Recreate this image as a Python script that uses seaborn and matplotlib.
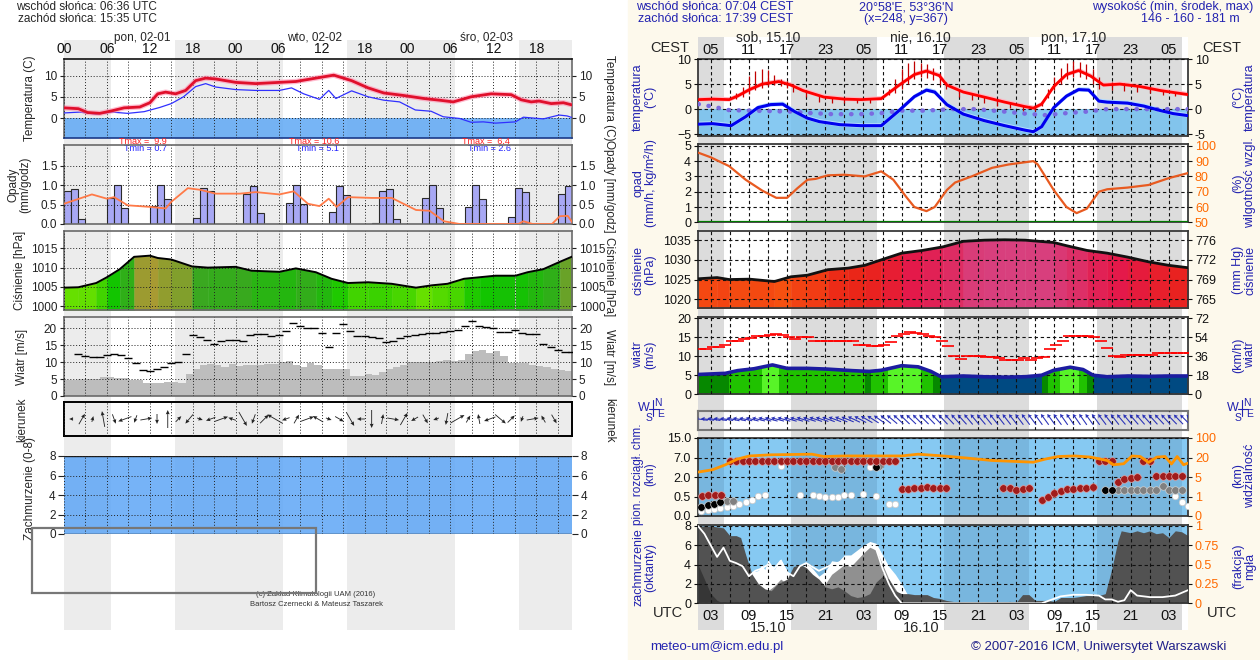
import numpy as np
import matplotlib
matplotlib.use("Agg")
import matplotlib.pyplot as plt
from matplotlib.colors import LinearSegmentedColormap, Normalize
from matplotlib.patches import Rectangle
from matplotlib.lines import Line2D
import seaborn as sns

sns.set_style("ticks")
plt.rcParams['font.family'] = ['Liberation Sans', 'DejaVu Sans']

# ---------------- left meteogram (UAM), hours since 02-01 00 UTC ----------------
l_sunrise, l_sunset = 6.6, 15.583
l_day_h = [11, 35, 59]
l_days = ['pon, 02-01', 'wto, 02-02', 'śro, 02-03']
l_tmax = [9.9, 10.6, 6.4]
l_tmin = [0.7, 5.1, 2.6]

l_temp_h = [0, 2, 3.3, 5, 6.7, 8.4, 10.6, 12, 13.1, 14.2, 15.6, 17, 18.4, 19.8, 21.2, 24, 26.8, 30.1,
            32.4, 35.2, 37.7, 40.2, 42.5, 44.7, 47.5, 50.3, 52.5, 54.4, 56.9, 59.7, 62.5, 63.9, 65.3,
            66.4, 68.1, 69.8, 71.2]
l_temp = [2.4, 2.2, 1.3, 1.1, 1.7, 2.4, 2.6, 3.6, 5.7, 6.1, 5.7, 6.5, 8.8, 9.4, 9.2, 8.4, 8.1, 8.4,
          8.6, 9.4, 10.1, 8.8, 7.1, 5.9, 5.3, 4.6, 4.2, 3.8, 5.0, 5.7, 5.5, 4.3, 3.8, 4.0, 3.4, 3.6, 3.0]
l_dew_h = [0, 2.2, 4.5, 6.7, 8.9, 11.2, 13.4, 15, 16.7, 18.4, 19.8, 21.2, 24, 26.8, 30.1, 31.8, 33.5,
           35.7, 37, 38, 40.2, 42.5, 44.7, 46.9, 49.1, 51.3, 53, 55.3, 56.9, 58.6, 60.3, 63.1, 64.2,
           67, 69.2, 70.3, 71.2]
l_dew = [1.2, 1.4, 0.9, 1.4, 1.1, 1.5, 2.5, 3.4, 5.0, 7.4, 8.1, 7.3, 6.7, 6.5, 6.5, 7.1, 5.7, 4.4,
         6.5, 4.6, 6.4, 5.0, 4.2, 3.8, 1.9, 1.6, 0.3, -0.1, -1.0, -0.9, -1.2, -0.9, 0.2, -0.2, 0.7,
         0.5, 0.0]

l_rain = [0.84, 0.90, 0.13, 0, 0, 0,
          0.67, 1.00, 0.41, 0, 0, 0,
          0.45, 1.00, 0.63, 0, 0, 0,
          0.15, 0.92, 0.85, 0, 0, 0, 0,
          0.77, 0.97, 0.27, 0, 0, 0,
          0.55, 1.00, 0.52, 0, 0, 0,
          0.30, 0.97, 0.75, 0, 0, 0,
          0.03, 0.86, 0.90, 0.12, 0, 0, 0,
          0.68, 1.00, 0.40, 0, 0, 0,
          0.43, 1.00, 0.63, 0, 0, 0,
          0.17, 0.92, 0.83, 0, 0, 0, 0,
          0.77, 0.97]
l_hum_h = [0, 3.9, 6, 7, 8.9, 12, 14.2, 15, 17.3, 19, 21.2, 24.6, 26.8, 30.1, 32.1, 34.1, 35.7, 37,
           38.1, 39.7, 43, 45.8, 49.2, 51.1, 53.1, 55.3, 63.5, 64.2, 65.5, 68.2, 69.3, 70.4, 71.2]
l_hum = [0.52, 0.76, 0.65, 0.69, 0.48, 0.44, 0.40, 0.57, 0.92, 0.88, 0.78, 0.78, 0.82, 0.76, 0.84,
         0.52, 0.46, 0.65, 0.44, 0.69, 0.67, 0.67, 0.36, 0.34, 0.07, 0.0, 0.0, 0.07, 0.0, 0.0, 0.20,
         0.21, 0.0]

l_pres_h = [0, 2, 4.5, 6, 7.8, 9.8, 12, 13.1, 15, 17.9, 20.1, 24, 26.2, 30.1, 32.4, 35.2, 37.4, 39.7,
            42.5, 45.8, 49.2, 51.4, 53.6, 55.9, 58.1, 60.3, 63.1, 64.8, 67, 69.3, 71.2]
l_pres = [1004.8, 1004.9, 1006.0, 1007.5, 1009.6, 1012.8, 1013.1, 1012.5, 1012.1, 1010.3, 1010.0,
          1010.2, 1009.2, 1008.9, 1009.8, 1008.8, 1007.1, 1006.0, 1006.2, 1005.8, 1004.8, 1005.4,
          1005.8, 1007.1, 1007.5, 1007.9, 1007.9, 1008.8, 1009.6, 1011.5, 1013.0]

l_wind = [4.7, 4.7, 5.0, 5.0, 5.0, 5.7, 5.7, 5.2, 5.2, 4.8, 4.8, 3.9, 3.9, 3.9, 4.0, 4.0, 3.8, 6.5,
          8.0, 9.0, 9.3, 9.0, 8.7, 9.3, 8.8, 9.0, 9.2, 9.2, 9.5, 9.3, 10.0, 10.4, 9.0, 8.6, 9.8, 9.2,
          8.0, 8.0, 8.0, 7.9, 5.8, 6.0, 6.5, 6.3, 7.0, 8.0, 8.7, 9.0, 10.0, 10.0, 10.0, 10.0, 10.3,
          10.5, 10.4, 10.7, 12.5, 13.2, 13.6, 12.8, 13.3, 11.8, 9.6, 9.8, 9.8, 9.2, 8.8, 8.5, 8.0,
          7.7, 7.5]
l_gust = [12.4, 11.9, 11.4, 11.4, 12.1, 12.4, 12.1, 11.2, 9.7, 7.8, 7.4, 8.1, 8.6, 9.6, 10.1, 12.4,
          18.1, 17.3, 16.5, 15.3, 16.1, 16.5, 16.5, 16.1, 18.1, 18.3, 18.3, 17.8, 18.0, 19.2, 21.5,
          20.5, 20.2, 20.2, 18.7, 14.5, 18.7, 21.2, 19.2, 17.8, 17.8, 17.5, 17.1, 15.8, 16.3, 17.0,
          17.6, 18.1, 18.3, 18.6, 18.6, 19.0, 19.2, 19.5, 20.7, 22.2, 20.7, 20.4, 20.2, 19.0, 19.0,
          19.5, 18.7, 18.4, 18.3, 15.3, 14.4, 13.6, 12.9, 12.9]
l_dir_ang = [180, 60, 75, 100, 290, 200, 250, 10, 270, 90,
             45, 230, 340, 200, 20, 160, 300, 250, 45, 150,
             200, 60, 20, 150, 340, 330, 300, 180, 270, 80,
             350, 60, 210, 300, 200, 260, 30, 60, 100, 200,
             320, 45, 250, 10, 120, 300]
l_dir_len = [0.2, 0.6, 0.3, 0.8, 0.5, 0.7, 0.4, 0.6, 0.5, 0.9,
             0.4, 0.6, 0.3, 0.5, 0.7, 0.4, 0.8, 0.5, 0.6, 0.9,
             0.4, 0.5, 0.7, 0.6, 0.3, 0.5, 0.8, 0.4, 0.9, 0.5,
             0.6, 0.7, 0.4, 0.5, 0.3, 0.6, 0.8, 0.4, 0.5, 0.6,
             0.7, 0.5, 0.3, 0.6, 0.4, 0.5]
l_cloud = 8

# ---------------- right meteogram (ICM), hours since 15.10 00 UTC ----------------
r_sunrise, r_sunset = 5.067, 15.65
r_day_h = [12, 36, 60]
r_days = ['sob, 15.10', 'nie, 16.10', 'pon, 17.10']
r_dates = ['15.10', '16.10', '17.10']

r_temp_h = [1.06, 3.3, 5.9, 7.2, 9.1, 11.1, 13.7, 15.6, 17.5, 20.8, 24, 26.6, 29.8, 32.4, 35, 36.9,
            38.9, 40.1, 42.7, 46, 49.2, 52.4, 53.7, 55, 56.9, 58.9, 60.8, 62.7, 64.7, 67.3, 70.5,
            73.7, 78]
r_temp = [1.9, 2.0, 1.9, 2.6, 3.9, 5.0, 5.5, 4.8, 3.7, 2.4, 2.0, 1.9, 2.1, 4.6, 6.9, 7.6, 6.7, 4.8,
          3.4, 2.4, 1.4, 0.5, 0.2, 1.0, 4.5, 6.9, 7.7, 6.6, 4.8, 5.0, 4.5, 3.7, 2.9]
r_blue_h = [1.06, 3.3, 6.2, 8.5, 10.4, 12.4, 14.3, 16.2, 18.2, 20.1, 23.3, 26.6, 29.8, 32.4, 35, 36.9,
            38.2, 40.1, 42.7, 46, 49.2, 52.4, 53.7, 55, 56.9, 58.9, 60.8, 62.4, 64, 65.3, 68.5,
            71.1, 73.7, 75.7, 78]
r_blue = [-3.0, -2.9, -3.3, -1.5, 0.3, 0.9, 1.0, -0.5, -1.8, -2.5, -3.1, -3.3, -3.3, -0.5, 2.5, 3.8,
          3.4, 0.9, -1.0, -2.3, -3.3, -4.2, -4.5, -3.5, 0.3, 2.6, 3.9, 3.8, 1.6, 1.4, 1.2, 0.6,
          -0.3, -0.9, -1.3]
r_dew_h = [1.06, 3.3, 5.9, 9.1, 12.4, 15.6, 18.9, 22.1, 26.6, 29.8, 33, 36.9, 40.8, 44.6, 49.2, 52.4,
           55.6, 58.9, 62.1, 65.3, 71.8, 78]
r_dew = [1.0, 0.5, -0.2, -0.3, -0.4, -0.5, -0.8, -1.0, -1.0, -0.8, -0.3, -0.3, 0.0, 0.0, -0.5, -0.9,
         -1.2, -0.8, -0.5, 0.0, 0.0, 0.0]
r_spike_h = [7, 8, 9, 10, 11, 12, 13, 14, 15, 16, 18, 20, 22, 24, 26, 28,
             31, 32, 33, 34, 35, 36, 37, 38, 39, 40, 42, 44, 46, 48, 50, 52, 54,
             55, 56, 57, 58, 59, 60, 61, 62, 63, 64, 66, 68, 70, 72, 74, 76]
r_spike_lo = [2.0, 2.4, 3.0, 3.8, 4.3, 4.6, 4.8, 4.7, 4.2, 3.5, 2.5, 1.5, 1.3, 1.2, 1.2, 1.3,
              2.8, 3.2, 4.0, 5.0, 6.0, 6.5, 6.3, 5.8, 4.8, 4.0, 2.4, 1.8, 1.2, 0.6, 0.2, -0.4, -0.3,
              0.6, 2.3, 3.8, 5.0, 6.0, 6.5, 6.5, 6.0, 5.0, 4.0, 3.8, 3.6, 3.4, 3.2, 2.8, 2.6]
r_spike_hi = [3.2, 4.5, 6.6, 7.6, 8.1, 7.9, 6.9, 6.0, 5.6, 5.0, 3.6, 2.6, 2.3, 2.1, 2.0, 2.1,
              4.0, 6.0, 8.0, 9.3, 9.6, 9.3, 9.0, 8.3, 7.2, 5.5, 3.8, 3.0, 2.5, 1.9, 1.2, 0.7, 0.5,
              1.6, 4.0, 6.5, 8.2, 9.2, 9.7, 9.5, 9.0, 8.0, 6.5, 5.4, 5.2, 4.9, 4.4, 3.9, 3.5]

r_hum_h = [1.06, 3, 5.9, 8.5, 11.1, 13.3, 15, 16.6, 18.2, 19.5, 21.4, 24, 27.2, 29.8, 31.7, 33.7, 35,
           36.9, 38.2, 40.1, 41.4, 44, 47.2, 49.8, 53.7, 54.4, 56.9, 58.9, 60.5, 62.1, 64, 65.3,
           68.5, 71.8, 75, 78]
r_hum = [95.5, 92.5, 86.7, 77.8, 70.7, 66, 66, 72.2, 77.8, 78.4, 80.7, 81.1, 80, 83.3, 77.8, 66.7,
         60, 57.3, 60, 71.1, 76, 80, 85.6, 87.8, 90, 87.8, 71.1, 60, 56, 58.9, 70, 71.6, 72.7, 74.4,
         78.9, 82.2]

r_pres_h = [1.06, 4, 5.9, 9.1, 13, 15.6, 18.2, 21.4, 24.6, 27.2, 29.8, 33, 36.3, 39.5, 42.7, 46, 49.2,
            52.4, 56.9, 58.9, 62.1, 65.3, 68.5, 71.8, 75, 78]
r_pres = [1025.2, 1025.5, 1025.0, 1025.1, 1024.5, 1025.7, 1026.1, 1027.5, 1027.9, 1028.6, 1030.0,
          1031.7, 1032.4, 1033.3, 1034.7, 1035.0, 1035.1, 1035.0, 1034.4, 1033.6, 1032.4, 1031.7,
          1030.7, 1029.5, 1028.6, 1028.0]
r_mmhg_ticks = [1020, 1025, 1030, 1035]
r_mmhg_labels = ['765', '769', '772', '776']

r_wind_h = [1.06, 5.3, 7.2, 9.8, 12.7, 15.0, 18.2, 21.4, 25.3, 27.9, 29.8, 33.0, 35.6, 37.6, 39.2,
            42.7, 46.0, 49.2, 52.4, 55.0, 56.9, 59.5, 61.5, 63.1, 65.3, 68.6, 71.8, 75.0, 78.0]
r_wind = [5.2, 5.5, 6.2, 6.7, 7.7, 6.8, 6.8, 6.6, 6.2, 6.0, 6.3, 7.5, 7.2, 6.0, 4.6, 4.8, 4.6, 4.5,
          4.6, 5.0, 6.3, 7.1, 6.5, 5.0, 4.6, 4.8, 4.7, 4.8, 4.8]
r_wclass_edges = [1, 5.9, 11.1, 13.7, 27.2, 28.2, 30.8, 36, 37.9, 39.2, 55, 56, 57.9, 60.8, 62.1, 63.3, 78]
r_wclass = ['dark', 'mid', 'bright', 'mid', 'dark', 'mid', 'bright', 'mid', 'dark', 'blue',
            'dark', 'mid', 'bright', 'mid', 'dark', 'blue']
r_gust = [11.8, 11.8, 12.4, 12.4, 13.0, 13.9, 13.9, 14.6, 14.8, 15.3,
          15.3, 15.6, 15.9, 15.6, 15.0, 14.6, 15.0, 15.0, 14.1, 14.1,
          14.1, 14.1, 13.9, 13.9, 13.9, 13.0, 13.0, 12.6, 12.6, 13.0,
          13.7, 15.4, 15.9, 16.3, 16.1, 15.9, 15.4, 15.0, 14.1, 12.6,
          10.0, 9.3, 10.0, 10.0, 10.0, 9.7, 9.7, 9.5, 9.1, 9.1,
          9.1, 9.5, 9.1, 9.5, 9.7, 11.8, 13.0, 14.1, 15.3, 15.4,
          15.4, 15.4, 15.0, 14.1, 12.1, 10.0, 9.7, 10.4, 10.4, 10.4,
          10.4, 10.4, 10.9, 10.9, 10.9, 10.9, 10.9, 10.9]
r_dir_ang = [172, 172, 170, 170, 170, 168, 168, 168, 166, 166,
             165, 165, 165, 164, 164, 164, 163, 163, 162, 162,
             160, 160, 158, 158, 155, 152, 150, 148, 145, 142,
             140, 138, 136, 136, 135, 135, 134, 134, 133, 133,
             132, 132, 130, 130, 130, 129, 129, 128, 128, 128,
             127, 127, 127, 126, 126, 126, 126, 125, 125, 125,
             125, 126, 126, 127, 128, 128, 130, 130, 131, 131,
             132, 132, 133, 133, 134, 134, 135, 135]

r_vis_h = [1.06, 3.3, 5.3, 7.2, 9.1, 12.4, 18.9, 20.8, 24, 33, 35.6, 39.5, 43.4, 47.2, 53.7, 55.6,
           57.6, 60.2, 62.7, 65.3, 66.3, 67.9, 69.2, 70.5, 71.8, 73.1, 74.4, 75.4, 76.3, 77.3, 78]
r_vis = [8.8, 10.6, 14.4, 18.8, 26.4, 31, 33.6, 24, 26.4, 26.4, 33.6, 26.4, 19.5, 17.7, 16.4, 18.8,
         24, 26.4, 21.6, 17.7, 14.4, 15.2, 26.4, 24, 16.2, 21.6, 24, 15, 24, 14.4, 15.7]
r_base_h = [1.6, 2.6, 3.6, 4.6,
            6, 7, 8, 9, 10, 11, 12, 13, 14, 15, 16, 17, 18, 19, 20, 21, 22, 23, 24, 25, 26, 27, 28,
            29, 30, 31, 32,
            33, 34, 35, 36, 37, 38, 39, 40,
            49, 50, 51, 52, 53,
            55, 56, 57, 58, 59, 60, 61, 62, 63,
            64, 65, 66, 67, 68, 69, 70, 71, 72, 73, 74, 75, 76, 77]
r_base = [0.56, 0.58, 0.6, 0.6,
          6.2, 6.2, 6.2, 6.2, 6.2, 6.2, 6.2, 6.2, 6.2, 6.2, 6.2, 6.2, 6.2, 6.2, 6.2, 6.2, 6.2, 6.2,
          6.2, 6.2, 6.2, 6.2, 6.2, 6.2, 6.2, 6.2, 6.2,
          1.05, 1.1, 1.15, 1.15, 1.22, 1.18, 1.15, 1.15,
          1.15, 1.15, 1.0, 1.1, 1.12,
          0.42, 0.5, 0.75, 0.95, 1.05, 1.1, 1.15, 1.18, 1.25,
          6.2, 6.2, 6.2, 1.6, 1.85, 1.95, 2.0, 6.2, 6.2, 2.3, 2.3, 2.3, 2.3, 2.3]
r_white_h = [1.5, 2.5, 3.5, 4.5, 5.5, 6.5, 7.5, 8.5, 9.5, 10.5, 11.5, 14, 17, 19, 20, 21, 22, 23, 24,
             25, 27, 28, 29, 31, 32, 65, 76, 77, 78]
r_white = [0.12, 0.15, 0.18, 0.2, 0.22, 0.25, 0.3, 0.35, 0.42, 0.55, 0.58, 4.8, 0.62, 0.58, 0.55, 0.5,
           0.5, 0.5, 0.62, 0.62, 0.7, 4.6, 0.55, 0.3, 0.3, 1.0, 0.55, 0.35, 0.25]
r_black_h = [1.5, 2.5, 3.5, 4.5, 29, 65, 66]
r_black = [0.22, 0.28, 0.32, 0.36, 4.6, 1.0, 1.0]
r_gray_h = [5.5, 6.5, 22.5, 23.5, 29.5, 67, 68, 69, 70, 71, 72, 73, 74, 75, 76, 77]
r_gray = [0.38, 0.38, 4.5, 4.0, 4.8, 1.0, 1.0, 1.0, 1.0, 1.0, 1.02, 1.02, 1.3, 1.0, 1.0, 1.0]

r_low_h = [1, 3, 5, 6, 7, 7.7, 8.5, 9.5, 10.5, 11.5, 12.5, 13.5, 15, 16, 17, 18, 19, 20, 21, 22, 23,
           24, 25, 26, 27, 28, 29, 30, 31, 32, 33, 34, 35, 36, 37, 38, 39, 40, 41, 42, 45, 48, 50,
           51, 52, 53, 54, 56, 57, 58, 60, 62, 64, 65, 66, 67, 67.5, 69, 70, 71, 72, 73, 74, 75,
           76, 77, 78]
r_low = [8, 8, 7.8, 7, 7, 6.8, 5, 3, 2, 1.5, 1.3, 2, 2.5, 3.8, 4, 3.7, 3, 2.5, 1.7, 1.5, 1.7, 1.3,
         0.8, 0.6, 0.7, 1.0, 2.2, 2.8, 2.5, 1.3, 1.0, 1.0, 0.9, 0.9, 0.9, 0.6, 0.5, 0.3, 0.2, 0.1,
         0, 0.1, 0.2, 0.1, 0.9, 0.9, 0.3, 0.3, 0.2, 0.6, 0.6, 0.8, 0.8, 1.0, 3.5, 6.5, 7.5, 7.3,
         7.5, 7.3, 7.5, 7.2, 7.3, 6.8, 7.5, 7.4, 7.0]
r_mid_h = [9, 10, 11, 12, 13, 14, 15, 16, 19, 20, 21, 22, 23, 24, 25, 26, 27, 28, 29, 30, 31, 32, 33, 34]
r_mid = [0, 0.5, 1.0, 1.3, 1.8, 2.5, 2.0, 0, 0.5, 1.5, 2.0, 3.0, 3.5, 4.0, 3.8, 4.5, 5.2, 5.8, 5.5,
         4.0, 2.5, 1.5, 0.5, 0]
r_high_h = [8, 9, 9.5, 10, 10.5, 11, 11.5, 12, 13, 14, 15, 16, 17, 18, 19, 20, 21, 22, 23, 24, 25,
            26, 27, 28, 29, 30, 31, 32, 33, 34, 35]
r_high = [0, 2.5, 3.3, 3.3, 3.4, 4.0, 3.5, 4.5, 3.5, 4.6, 3.3, 2.5, 3.3, 4.2, 3.6, 2.8, 3.3, 4.4,
          4.3, 5.0, 5.0, 5.5, 6.0, 6.4, 6.2, 5.0, 3.8, 3.0, 2.0, 0.8, 0]
r_vlow_h = [1, 2, 3, 4, 5]
r_vlow = [4, 2.5, 1, 0.3, 0]
r_fog_h = [1, 2, 3, 4, 5, 6, 7, 8, 9, 10, 11, 12, 13, 14, 15, 16, 17, 18, 20, 22, 24, 26, 28, 29, 30,
           31, 32, 33, 55, 56, 58, 60, 62, 64, 65, 66, 67, 68, 69, 70, 72, 74, 76, 78]
r_fog = [1.0, 0.9, 0.75, 0.6, 0.72, 0.55, 0.52, 0.48, 0.35, 0.42, 0.45, 0.5, 0.45, 0.55, 0.4, 0.35,
         0.48, 0.52, 0.42, 0.5, 0.55, 0.62, 0.75, 0.7, 0.45, 0.25, 0.1, 0.0, 0.0, 0.03, 0.09, 0.11,
         0.11, 0.1, 0.05, 0.05, 0.02, 0.04, 0.17, 0.1, 0.08, 0.08, 0.1, 0.17]

# ---------------------------------------------------------------------------------
W, H = 1260, 660
fig = plt.figure(figsize=(W / 100, H / 100), dpi=100)
fig.add_artist(Rectangle((628 / W, 0), 1, 1, transform=fig.transFigure, color='#fdf9ec', zorder=-5))


def box(x0, y0, x1, y1, **kw):
    return fig.add_axes([x0 / W, 1 - y1 / H, (x1 - x0) / W, (y1 - y0) / H], **kw)


def ftext(x, y, s, **kw):
    fig.text(x / W, 1 - y / H, s, **kw)


def vlabel(x, y, s, rot=90, **kw):
    ftext(x, y, s, rotation=rot, ha='center', va='center', multialignment='center',
          linespacing=1.0, **kw)


# ================= LEFT =================
LX0, LX1, LXMAX = 64, 572, 71
lbg = box(LX0, 40, LX1, 630)
lbg.set_xlim(0, LXMAX)
lbg.set_ylim(0, 1)
lbg.axis('off')
for d in range(4):
    a, b = max(0, d * 24 + l_sunset - 24), min(LXMAX, d * 24 + l_sunrise)
    lbg.axvspan(a, b, color='#ececec', lw=0)


def left_style(ax, ylim, yticks, fmt='{:g}'):
    ax.set_facecolor('none')
    ax.set_axisbelow(False)
    ax.set_xlim(0, LXMAX)
    ax.set_ylim(*ylim)
    ax.set_xticks(np.arange(0, 72, 3))
    ax.set_yticks(yticks)
    ax.set_yticklabels([fmt.format(v) for v in yticks])
    ax.tick_params(axis='x', length=0, labelbottom=False)
    ax.tick_params(axis='y', left=True, right=True, labelleft=True, labelright=True,
                   labelsize=8.5, length=3, pad=2, colors='#222222')
    ax.grid(True, ls=(0, (1, 2)), color='#222222', lw=0.7)
    for s in ax.spines.values():
        s.set_color('#6a6a6a')
        s.set_linewidth(1.2)


# temperature
lt = box(LX0, 59, LX1, 138)
left_style(lt, (-4.7, 13.9), [0, 5, 10])
lt.axhspan(-4.7, 0, color='#5fa8f5', alpha=0.85, lw=0)
sns.lineplot(x=l_dew_h, y=l_dew, ax=lt, color='#3030ff', lw=0.9, zorder=3)
sns.lineplot(x=l_temp_h, y=l_temp, ax=lt, color='#ff90b0', lw=3.8, alpha=0.6, zorder=3)
sns.lineplot(x=l_temp_h, y=l_temp, ax=lt, color='#e0102c', lw=2.0, zorder=3)
lt.spines['top'].set_color('#111111')
lt.spines['bottom'].set_color('#1a3a8a')
lt.set_xticklabels([f'{h % 24:02d}' if h % 6 == 0 else '' for h in range(0, 72, 3)])
lt.tick_params(axis='x', labeltop=True, labelbottom=False, labelsize=10, pad=2, colors='#111111')
for h, s, tx, tn in zip(l_day_h, l_days, l_tmax, l_tmin):
    lt.text(h, 1.27, s, transform=lt.get_xaxis_transform(), ha='center', va='center', fontsize=8.5)
    lt.text(h, -0.04, f'Tmax = {tx:4.1f}', transform=lt.get_xaxis_transform(), ha='center',
            va='center', fontsize=6.5, color='#ff2020')
    lt.text(h + 0.4, -0.13, f'Tmin = {tn:.1f}', transform=lt.get_xaxis_transform(), ha='center',
            va='center', fontsize=6.5, color='#2020ff')

# precipitation
lp = box(LX0, 145, LX1, 224)
left_style(lp, (0, 2.03), [0, 0.5, 1.0, 1.5], '{:.1f}')
lp.bar(np.arange(len(l_rain)), l_rain, width=1, align='edge', color='#a8a8f4',
       edgecolor='#2a2a2a', linewidth=0.8, zorder=1)
sns.lineplot(x=l_hum_h, y=l_hum, ax=lp, color='#ff7a48', lw=1.3, zorder=3)

# pressure
lpr = box(LX0, 231, LX1, 310)
left_style(lpr, (999, 1019.5), [1000, 1005, 1010, 1015])
cm_l = LinearSegmentedColormap.from_list('lp', ['#66e000', '#10c400', '#3aa820', '#a89a32'])
nm_l = Normalize(min(l_pres), max(l_pres))
for i in range(len(l_pres_h) - 1):
    c = cm_l(nm_l(l_pres[i]))
    lpr.fill_between(l_pres_h[i:i + 2], l_pres[i:i + 2], 999, color=c, lw=0.3, edgecolor=c)
sns.lineplot(x=l_pres_h, y=l_pres, ax=lpr, color='black', lw=1.4, zorder=3)

# wind
lw_ = box(LX0, 317, LX1, 396)
left_style(lw_, (0, 23.3), [0, 5, 10, 15, 20])
lw_.bar(np.arange(len(l_wind)), l_wind, width=1, align='edge', color='#bdbdbd', lw=0, zorder=1)
sns.scatterplot(x=2 + np.arange(len(l_gust)), y=l_gust, ax=lw_, marker='_', s=30, color='black',
                linewidth=1.0, zorder=3)

# direction
ld = box(LX0, 402, LX1, 436)
left_style(ld, (0, 1), [])
ld.tick_params(axis='y', left=False, right=False)
for s in ld.spines.values():
    s.set_color('black')
    s.set_linewidth(1.4)
ld.grid(False, axis='y')
ang = np.deg2rad(l_dir_ang)
l_dir_h = 1 + 1.5 * np.arange(len(l_dir_ang))
ld.quiver(l_dir_h, np.full(len(l_dir_h), 0.5), np.array(l_dir_len) * np.cos(ang),
          np.array(l_dir_len) * np.sin(ang), angles='uv', scale_units='inches', scale=5.0,
          pivot='middle', width=0.0017, headwidth=4.5, headlength=5, headaxislength=4.5,
          color='#222222', zorder=3)

# cloud cover
lc = box(LX0, 456, LX1, 534)
left_style(lc, (0, 8), [0, 2, 4, 6, 8])
lc.axhspan(0, l_cloud, color='#5ea6f6', alpha=0.85, lw=0)
for s in lc.spines.values():
    s.set_visible(False)
lc.axhline(8, color='#1a1a1a', lw=1)
lc.axhline(0, color='#1a1a1a', lw=1)
lc.tick_params(axis='y', length=4)

vlabel(30, 98, 'Temperatura (C)', fontsize=8.5)
vlabel(609, 98, 'Temperatura (C)', rot=270, fontsize=8.5)
vlabel(19, 185, 'Opady\n(mm/godz)', fontsize=8.5)
vlabel(609, 186, 'Opady [mm/godz]', rot=270, fontsize=8.5)
vlabel(20, 270, 'Ciśnienie [hPa]', fontsize=8.5)
vlabel(609, 277, 'Ciśnienie [hPa]', rot=270, fontsize=8.5)
vlabel(22, 357, 'Wiatr [m/s]', fontsize=8.5)
vlabel(609, 357, 'Wiatr [m/s]', rot=270, fontsize=8.5)
vlabel(22, 420, 'kierunek', fontsize=8.5)
vlabel(609, 420, 'kierunek', rot=270, fontsize=8.5)
vlabel(30, 488, 'Zachmurzenie (0-8)', fontsize=8.5)

fig.add_artist(Rectangle((31.5 / W, 1 - 593 / H), (316 - 31.5) / W, (593 - 528) / H, fill=False,
                         ec='#777777', lw=1.6, transform=fig.transFigure, zorder=5))
ftext(316, 594, '(c) Zakład Klimatologii UAM (2016)', ha='center', va='center', fontsize=5.5,
      color='#333333')
ftext(316, 604, 'Bartosz Czernecki & Mateusz Taszarek', ha='center', va='center', fontsize=5.5,
      color='#333333')
ftext(16, 7, 'wschód słońca: 06:36 UTC', ha='left', va='center', fontsize=8.5)
ftext(18, 19, 'zachód słońca: 15:35 UTC', ha='left', va='center', fontsize=8.5)

# ================= RIGHT =================
RX0, RX1 = 698, 1188
RXLIM = (1, 78)
BLUE_T = '#2323b0'
ORANGE = '#ff6a00'

rbg = box(RX0, 37, RX1, 630)
rbg.set_xlim(*RXLIM)
rbg.set_ylim(0, 1)
rbg.axis('off')
rbg.axvspan(*RXLIM, color='white', lw=0)
for d in range(4):
    a, b = max(RXLIM[0], d * 24 + r_sunset - 24), min(RXLIM[1], d * 24 + r_sunrise)
    if b > a:
        rbg.axvspan(a, b, color='#dcdcdc', lw=0)


def right_style(ax, ylim, yticks, labels=None, face='none'):
    ax.set_facecolor(face)
    ax.set_axisbelow(False)
    ax.set_xlim(*RXLIM)
    ax.set_ylim(*ylim)
    ax.set_xticks(np.arange(3, 78, 3))
    ax.set_yticks(yticks)
    if labels is not None:
        ax.set_yticklabels(labels)
    ax.tick_params(axis='x', length=0, labelbottom=False)
    ax.tick_params(axis='y', left=True, labelsize=9, length=3, pad=2, colors='#111111')
    ax.grid(True, ls=(0, (3, 2.5)), color='#111111', lw=0.8)
    for s in ax.spines.values():
        s.set_color('#3a3a3a')
        s.set_linewidth(1.3)


def night_shade(ax):
    for d in range(4):
        a, b = max(RXLIM[0], d * 24 + r_sunset - 24), min(RXLIM[1], d * 24 + r_sunrise)
        if b > a:
            ax.axvspan(a, b, color='#1a3050', alpha=0.12, lw=0, zorder=0.5)


def right_axis(ax, ticks, labels, color='#111111', ylim=None):
    sec = ax.twinx()
    sec.set_ylim(*(ylim if ylim else ax.get_ylim()))
    sec.set_yticks(ticks)
    sec.set_yticklabels(labels)
    sec.tick_params(axis='y', labelsize=9, length=3, pad=2, colors=color)
    sec.tick_params(axis='y', color='#111111')
    for s in sec.spines.values():
        s.set_visible(False)
    sec.grid(False)
    return sec


# temperature
rt = box(RX0, 58.5, RX1, 135.7)
right_style(rt, (-5.3, 10.1), [-5, 0, 5, 10])
rt.axhspan(-5.3, 0, color='#72c0f0', alpha=0.85, lw=0)
rt.fill_between(r_temp_h, np.array(r_temp) - 0.3, np.array(r_temp) + 0.6, color='#ffb8c4', lw=0,
                zorder=2)
rt.fill_between(r_blue_h, np.array(r_blue) - 0.3, np.array(r_blue) + 0.6, color='#b4dcff', lw=0,
                zorder=2)
rt.vlines(r_spike_h, r_spike_lo, r_spike_hi, color='#c00000', lw=0.9, zorder=3)
rt.plot(r_dew_h, r_dew, ls=(0, (0.1, 2.2)), lw=3.2, color='#7a6ae0', dash_capstyle='round',
        zorder=3)
sns.lineplot(x=r_temp_h, y=r_temp, ax=rt, color='#ff0000', lw=2.0, zorder=4)
sns.lineplot(x=r_blue_h, y=r_blue, ax=rt, color='#0000ee', lw=2.2, zorder=4)
right_axis(rt, [-5, 0, 5, 10], ['-5', '0', '5', '10'])
rt.set_xticklabels([f'{(h + 2) % 24:02d}' if h % 6 == 3 else '' for h in range(3, 78, 3)])
rt.tick_params(axis='x', labeltop=True, labelbottom=False, labelsize=10.5, pad=1, colors='#111111')
for h, s in zip(r_day_h, r_days):
    rt.text(h, 1.27, s, transform=rt.get_xaxis_transform(), ha='center', va='center', fontsize=10)
ftext(670, 48, 'CEST', ha='center', va='center', fontsize=10.5)
ftext(1222, 48, 'CEST', ha='center', va='center', fontsize=10.5)

# precipitation / humidity
rp = box(RX0, 144.3, RX1, 222.3)
right_style(rp, (0, 5.1), [0, 1, 2, 3, 4, 5])
rp.axhline(0, color='#007a00', lw=1.6, zorder=3)
rph = right_axis(rp, [50, 60, 70, 80, 90, 100], ['50', '60', '70', '80', '90', '100'],
                 color=ORANGE, ylim=(50, 101))
sns.lineplot(x=r_hum_h, y=r_hum, ax=rph, color='#e85a20', lw=1.6)

# pressure
rpr = box(RX0, 230.7, RX1, 308.3)
right_style(rpr, (1017.7, 1037.4), [1020, 1025, 1030, 1035])
cm_r = LinearSegmentedColormap.from_list('rp', ['#f65010', '#ea2418', '#e41848', '#d8407e'])
nm_r = Normalize(min(r_pres), max(r_pres))
for i in range(len(r_pres_h) - 1):
    c = cm_r(nm_r(r_pres[i]))
    rpr.fill_between(r_pres_h[i:i + 2], r_pres[i:i + 2], 1017.7, color=c, lw=0.3, edgecolor=c)
sns.lineplot(x=r_pres_h, y=r_pres, ax=rpr, color='#111111', lw=2.0, zorder=3)
right_axis(rpr, r_mmhg_ticks, r_mmhg_labels)

# wind
rw = box(RX0, 316.7, RX1, 394.3)
right_style(rw, (0, 20.35), [0, 5, 10, 15, 20])
wind_cols = {'dark': '#068800', 'mid': '#20c200', 'bright': '#58f428', 'blue': '#004a82'}
for a, b, c in zip(r_wclass_edges[:-1], r_wclass_edges[1:], r_wclass):
    poly = rw.fill_between(r_wind_h, r_wind, 0, color=wind_cols[c], lw=0)
    poly.set_clip_path(Rectangle((a, 0), b - a, 25, transform=rw.transData))
sns.lineplot(x=r_wind_h, y=r_wind, ax=rw, color='#1c1ca0', lw=2.6, zorder=3)
sns.scatterplot(x=1.3 + np.arange(len(r_gust)), y=r_gust, ax=rw, marker='_', s=70, color='#ff0000',
                linewidth=1.2, zorder=4)
right_axis(rw, [0, 5, 10, 15, 20], ['0', '18', '36', '54', '72'])

# direction
rd = box(RX0, 410.7, RX1, 430)
right_style(rd, (0, 1), [])
rd.grid(False, axis='y')
for s in rd.spines.values():
    s.set_color('#777777')
    s.set_linewidth(1.5)
ra = np.deg2rad(r_dir_ang)
rd.quiver(1.5 + np.arange(len(r_dir_ang)), np.full(len(r_dir_ang), 0.55), np.cos(ra), np.sin(ra),
          angles='uv', scale_units='inches', scale=7.5, pivot='middle', width=0.0022,
          headwidth=4, headlength=3.5, headaxislength=3, color='#2a32b8', zorder=3)

# cloud base / visibility
kb_km, kb_pos = [0, 0.5, 2, 7, 15, 30], [0, 1, 2, 3, 4, 5]
kv_km, kv_pos = [0, 1, 5, 20, 100, 200], [0, 1, 2, 3, 4, 5]
rb = box(RX0, 438, RX1, 516)
rb.set_yscale('function', functions=(lambda v: np.interp(v, kb_km, kb_pos),
                                     lambda p: np.interp(p, kb_pos, kb_km)))
right_style(rb, (0, 15), [0, 0.5, 2, 7, 15], ['0.0', '0.5', '2.0', '7.0', '15.0'], face='#86c9f2')
night_shade(rb)
rbv = rb.twinx()
rbv.set_yscale('function', functions=(lambda v: np.interp(v, kv_km, kv_pos),
                                      lambda p: np.interp(p, kv_pos, kv_km)))
rbv.set_ylim(0, 100)
rbv.set_yticks([0, 1, 5, 20, 100])
rbv.set_yticklabels(['0', '1', '5', '20', '100'])
rbv.tick_params(axis='y', labelsize=9, length=3, pad=2, labelcolor=ORANGE)
for s in rbv.spines.values():
    s.set_visible(False)
sns.lineplot(x=r_vis_h, y=r_vis, ax=rbv, color='#ff9400', lw=2.0, zorder=3)
sns.scatterplot(x=r_white_h, y=r_white, ax=rb, s=22, color='white', edgecolor='#c8c8c8',
                linewidth=0.5, zorder=4)
sns.scatterplot(x=r_gray_h, y=r_gray, ax=rb, s=30, color='#808080', edgecolor='#d0d0d0',
                linewidth=0.5, zorder=4)
sns.scatterplot(x=r_black_h, y=r_black, ax=rb, s=30, color='black', edgecolor='#d0d0d0',
                linewidth=0.5, zorder=4)
sns.scatterplot(x=r_base_h, y=r_base, ax=rb, s=30, color='#a01c1c', edgecolor='#e0a0a0',
                linewidth=0.5, zorder=5)

# cloud cover / fog
rc = box(RX0, 525, RX1, 603.3)
right_style(rc, (0, 8.1), [0, 2, 4, 6, 8], face='#86c9f2')
night_shade(rc)
rc.fill_between(r_high_h, r_high, 0, color='white', lw=0, zorder=1)
rc.fill_between(r_mid_h, r_mid, 0, color='#909090', lw=0, zorder=1.1)
rc.fill_between(r_low_h, r_low, 0, color='#525252', lw=0, zorder=1.2)
rc.fill_between(r_vlow_h, r_vlow, 0, color='#363636', lw=0, zorder=1.3)
rcf = right_axis(rc, [0, 0.25, 0.5, 0.75, 1], ['0', '0.25', '0.5', '0.75', '1'], color=ORANGE,
                 ylim=(0, 8.1 / 8))
sns.lineplot(x=r_fog_h, y=r_fog, ax=rcf, color='white', lw=1.3)
rc.set_xticklabels([f'{h % 24:02d}' if h % 6 == 3 else '' for h in range(3, 78, 3)])
rc.tick_params(axis='x', labelbottom=True, labelsize=10.5, pad=4, colors='#111111')
for h, s in zip(r_day_h, r_dates):
    rc.text(h, -0.32, s, transform=rc.get_xaxis_transform(), ha='center', va='center',
            fontsize=10.5)
ftext(668, 613, 'UTC', ha='center', va='center', fontsize=10.5)
ftext(1222, 613, 'UTC', ha='center', va='center', fontsize=10.5)

vlabel(644, 97, 'temperatura\n(°C)', fontsize=9, color=BLUE_T)
vlabel(1244, 97, '(°C)\ntemperatura', fontsize=9, color=BLUE_T)
vlabel(645, 183, 'opad\n(mm/h, kg/m²/h)', fontsize=9, color=BLUE_T)
vlabel(1244, 183, '(%)\nwilgotność wzgl.', fontsize=9, color=BLUE_T)
vlabel(644, 270, 'ciśnienie\n(hPa)', fontsize=9, color=BLUE_T)
vlabel(1244, 270, '(mm Hg)\nciśnienie', fontsize=9, color=BLUE_T)
vlabel(644, 355, 'wiatr\n(m/s)', fontsize=9, color=BLUE_T)
vlabel(1244, 355, '(km/h)\nwiatr', fontsize=9, color=BLUE_T)
vlabel(644, 474, 'pion. rozciągł. chm.\n(km)', fontsize=8.5, color=BLUE_T)
vlabel(1244, 476, '(km)\nwidzialność', fontsize=9, color=BLUE_T)
vlabel(644, 567, 'zachmurzenie\n(oktanty)', fontsize=9, color=BLUE_T)
vlabel(1244, 566, '(frakcja)\nmgła', fontsize=9, color=BLUE_T)

for cx, cy in [(650, 409), (1239, 409)]:
    fig.add_artist(Line2D([(cx - 1) / W, (cx + 9) / W], [1 - cy / H] * 2, color=BLUE_T, lw=0.8))
    fig.add_artist(Line2D([(cx + 3) / W] * 2, [1 - (cy - 9) / H, 1 - (cy + 7) / H], color=BLUE_T,
                          lw=0.8))
    ftext(cx + 8, cy - 6, 'N', ha='center', va='center', fontsize=7.5, color=BLUE_T)
    ftext(cx - 6, cy - 1, 'W', ha='center', va='center', fontsize=9, color=BLUE_T)
    ftext(cx + 11, cy + 5, 'E', ha='center', va='center', fontsize=7.5, color=BLUE_T)
    ftext(cx - 1, cy + 9, 'S', ha='center', va='center', fontsize=7.5, color=BLUE_T)

ftext(636, 7, 'wschód słońca: 07:04 CEST', ha='left', va='center', fontsize=9, color=BLUE_T)
ftext(638, 19, 'zachód słońca: 17:39 CEST', ha='left', va='center', fontsize=9, color=BLUE_T)
ftext(906, 7, "20°58'E, 53°36'N", ha='center', va='center', fontsize=9, color=BLUE_T)
ftext(906, 19, '(x=248, y=367)', ha='center', va='center', fontsize=9, color=BLUE_T)
ftext(1253, 7, 'wysokość (min, środek, max)', ha='right', va='center', fontsize=9, color=BLUE_T)
ftext(1190, 19, '146 - 160 - 181 m', ha='center', va='center', fontsize=9, color=BLUE_T)
ftext(650, 647, 'meteo-um@icm.edu.pl', ha='left', va='center', fontsize=9.5, color=BLUE_T)
ftext(1226, 647, '© 2007-2016 ICM, Uniwersytet Warszawski', ha='right', va='center',
      fontsize=9.5, color='#20208a')

fig.savefig('out.png', dpi=100)
